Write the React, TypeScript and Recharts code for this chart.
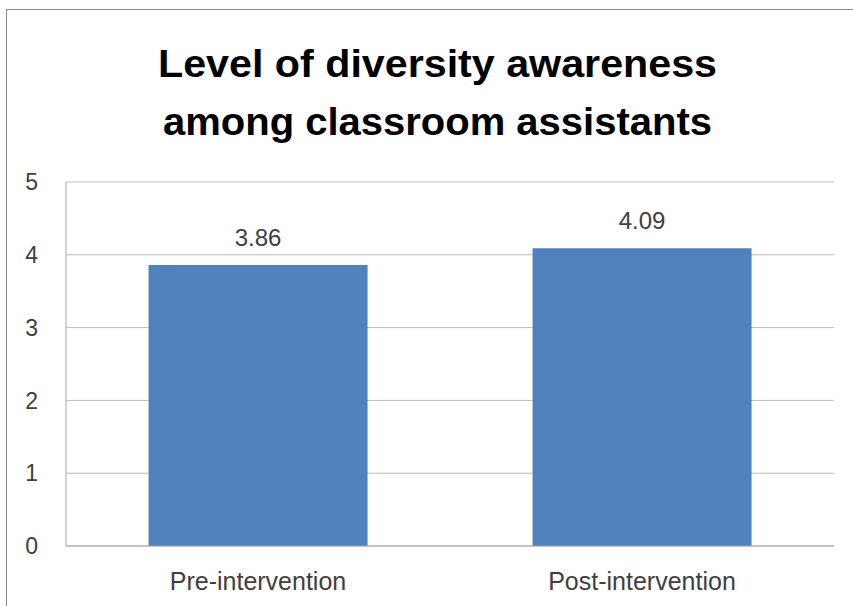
import React from "react";
import { BarChart, Bar, XAxis, YAxis, CartesianGrid, LabelList } from "recharts";

const categories = ["Pre-intervention", "Post-intervention"];
const awareness = [3.86, 4.09];
const yTicks = [0, 1, 2, 3, 4, 5];
const titleLines = ["Level of diversity awareness", "among classroom assistants"];

const data = categories.map((c, i) => ({ name: c, value: awareness[i] }));

const FONT = "'Liberation Sans', Arial, sans-serif";

export default function App() {
  return (
    <div style={{ position: "absolute", left: 0, top: 0, width: 853, height: 606, overflow: "hidden", background: "#fff" }}>
      <div style={{ position: "absolute", left: 6, top: 9, width: 900, height: 700, border: "1px solid #8a8a8a", boxSizing: "border-box" }} />
      <div style={{ position: "absolute", left: 0, top: 0 }}>
        <BarChart
          width={853}
          height={606}
          data={data}
          margin={{ top: 182, right: 19, left: 0, bottom: 20 }}
          barCategoryGap="21.5%"
        >
          <CartesianGrid vertical={false} stroke="#bdbdbd" />
          <XAxis
            dataKey="name"
            height={40}
            tickLine={false}
            tickSize={0}
            tickMargin={26}
            axisLine={{ stroke: "#a6a6a6" }}
            tick={{ fontFamily: FONT, fontSize: 25, fill: "#404040" }}
          />
          <YAxis
            width={66}
            domain={[0, 5]}
            ticks={yTicks}
            tickLine={false}
            tickSize={0}
            tickMargin={28}
            axisLine={{ stroke: "#a6a6a6" }}
            tick={{ fontFamily: FONT, fontSize: 23, fill: "#404040" }}
          />
          <Bar dataKey="value" fill="#4f81bd" isAnimationActive={false}>
            <LabelList
              dataKey="value"
              position="top"
              offset={19}
              formatter={(v: number) => v.toFixed(2)}
              style={{ fontFamily: FONT, fontSize: 24, fill: "#404040" }}
            />
          </Bar>
        </BarChart>
      </div>
      <svg width={853} height={606} style={{ position: "absolute", left: 0, top: 0, pointerEvents: "none" }}>
        <text x={437.5} y={77} textAnchor="middle" fontFamily={FONT} fontWeight="bold" fontSize={38} fill="#000" textLength={559} lengthAdjust="spacingAndGlyphs">
          {titleLines[0]}
        </text>
        <text x={437.5} y={135} textAnchor="middle" fontFamily={FONT} fontWeight="bold" fontSize={38} fill="#000" textLength={549} lengthAdjust="spacingAndGlyphs">
          {titleLines[1]}
        </text>
      </svg>
    </div>
  );
}
